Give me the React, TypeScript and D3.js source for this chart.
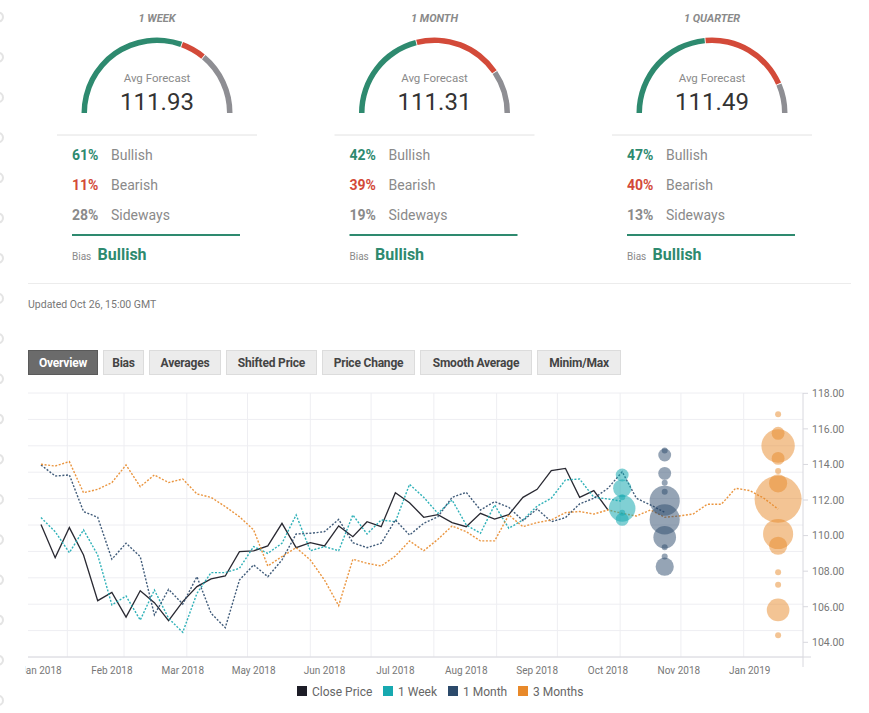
import * as d3 from "d3";

// gauge panel
const tenors = ["1 WEEK", "1 MONTH", "1 QUARTER"];
const avgForecast = [111.93, 111.31, 111.49];
const bullishPct = [61, 42, 47];
const bearishPct = [11, 39, 40];
const sidewaysPct = [28, 19, 13];
const biasLabel = ["Bullish", "Bullish", "Bullish"];

const tabs = ["Overview", "Bias", "Averages", "Shifted Price", "Price Change", "Smooth Average", "Minim/Max"];

// weekly series, first point = 19 Jan 2018
const closePrice = [
  110.63, 108.76, 110.45, 108.91, 106.34, 106.81, 105.42, 106.9, 106.23, 105.22,
  106.29, 107.13, 107.56, 107.73, 109.1, 109.14, 109.42, 110.69, 109.32, 109.6,
  109.42, 110.54, 109.94, 110.78, 110.5, 112.41, 111.85, 111.03, 111.18, 110.73,
  110.5, 111.25, 110.93, 111.18, 112.15, 112.6, 113.65, 113.78, 112.15, 112.53,
  111.44,
];
const week1 = [
  111.01, 110.22, 109.04, 110.32, 108.91, 106.1, 106.6, 105.25, 106.94, 105.35,
  104.56, 106.75, 107.92, 107.92, 108.16, 109.38, 109.0, 109.57, 111.16, 109.15,
  109.38, 109.15, 111.16, 110.09, 110.88, 110.78, 112.88, 112.15, 111.25, 112.0,
  110.6, 110.13, 111.72, 110.41, 110.88, 111.66, 112.1, 113.13, 113.18, 112.15,
  112.06, 111.93,
];
const month1 = [
  113.97, 113.35, 113.41, 111.35, 111.03, 108.67, 109.57, 108.82, 105.54, 106.98,
  106.15, 107.69, 105.63, 104.82, 107.5, 108.35, 107.69, 108.63, 110.09, 110.13,
  110.22, 110.91, 109.6, 109.32, 109.57, 110.88, 110.03, 110.69, 111.06, 112.15,
  112.43, 111.44, 111.91, 111.59, 110.84, 111.5, 110.78, 111.01, 111.78, 112.1,
  112.66, 113.59, 112.1, 111.72, 111.31,
];
const months3 = [
  114.01, 113.91, 114.16, 112.41, 112.6, 112.98, 113.97, 112.75, 113.41, 112.98,
  113.18, 112.34, 112.15, 111.63, 111.06, 110.32, 108.29, 108.82, 109.32, 108.63,
  107.5, 106.06, 108.67, 108.44, 108.29, 108.85, 109.7, 109.15, 109.79, 110.54,
  110.22, 109.7, 109.7, 111.16, 110.5, 110.73, 110.88, 111.29, 111.35, 111.21,
  111.44, 111.25, 111.1, 111.44, 111.03, 111.1, 111.21, 111.76, 111.76, 112.66,
  112.53, 112.1, 111.49,
];

// forecast bubbles: value and number of forecasts
const week1BubbleValues = [113.41, 112.66, 112.15, 111.53, 111.29, 110.91];
const week1BubbleCounts = [2, 3, 1, 5, 1, 2];
const month1BubbleValues = [114.78, 114.53, 113.5, 112.97, 112.47, 111.96, 110.91, 109.9, 109.34, 108.82, 108.25];
const month1BubbleCounts = [1, 2, 2, 1, 1, 6, 6, 4, 1, 1, 3];
const months3BubbleValues = [116.82, 115.75, 115.04, 114.34, 113.63, 112.94, 112.04, 110.09, 109.43, 107.94, 107.24, 105.82, 104.39];
const months3BubbleCounts = [1, 2, 7, 2, 1, 3, 12, 6, 3, 1, 1, 4, 1];

const yTicks = [104, 106, 108, 110, 112, 114, 116, 118];

const seriesNames = ["Close Price", "1 Week", "1 Month", "3 Months"];
const seriesColors = ["#1d1d27", "#17a9b0", "#2c4a6b", "#e8892a"];

const GREEN = "#2e8a6f";
const RED = "#d34a39";
const GREY = "#8e8e93";
const FONT = "Roboto, 'Noto Sans', sans-serif";

const startDate = new Date(2018, 0, 19);
const weekDate = (i: number) => d3.timeDay.offset(startDate, 7 * i);

function Gauge({ idx }: { idx: number }) {
  const cx = 157 + idx * 277.5;
  const cy = 113;
  const arc = d3.arc<{ a0: number; a1: number }>()
    .innerRadius(70)
    .outerRadius(75.5)
    .startAngle((d) => d.a0)
    .endAngle((d) => d.a1);
  const angle = d3.scaleLinear().domain([0, 100]).range([-Math.PI / 2, Math.PI / 2]);
  const b = bullishPct[idx];
  const r = bearishPct[idx];
  const segs = [
    { a0: angle(0), a1: angle(b) - 0.006, c: GREEN },
    { a0: angle(b) + 0.006, a1: angle(b + r) - 0.006, c: RED },
    { a0: angle(b + r) + 0.006, a1: angle(100), c: GREY },
  ];
  const left = cx - 85;
  const rows = [
    { p: bullishPct[idx], l: "Bullish", c: GREEN },
    { p: bearishPct[idx], l: "Bearish", c: RED },
    { p: sidewaysPct[idx], l: "Sideways", c: "#8a8a8a" },
  ];
  return (
    <g fontFamily={FONT}>
      <text x={cx} y={21.5} textAnchor="middle" fontSize={11} fontStyle="italic" fontWeight="bold" fill="#8a8a8a">
        {tenors[idx]}
      </text>
      <g transform={`translate(${cx},${cy})`}>
        {segs.map((s, i) => (
          <path key={i} d={arc(s) ?? ""} fill={s.c} />
        ))}
      </g>
      <text x={cx} y={81.5} textAnchor="middle" fontSize={11.5} fill="#8a8a8a">
        Avg Forecast
      </text>
      <text x={cx} y={109.5} textAnchor="middle" fontSize={24} fill="#333">
        {avgForecast[idx].toFixed(2)}
      </text>
      <line x1={cx - 100} x2={cx + 100} y1={135} y2={135} stroke="#e2e2e2" strokeWidth={1} />
      {rows.map((row, i) => (
        <g key={i}>
          <text x={left} y={160 + i * 30} fontSize={14} fontWeight="bold" fill={row.c}>
            {row.p}%
          </text>
          <text x={left + 39} y={160 + i * 30} fontSize={14} fill="#8a8a8a">
            {row.l}
          </text>
        </g>
      ))}
      <line x1={left} x2={cx + 83} y1={235} y2={235} stroke={GREEN} strokeWidth={2} />
      <text x={left} y={260} fontSize={10} fill="#8a8a8a">
        Bias
      </text>
      <text x={left + 25.5} y={260} fontSize={16} fontWeight="bold" fill={GREEN}>
        {biasLabel[idx]}
      </text>
    </g>
  );
}

function Chart() {
  const plot = { left: 28, right: 803, top: 393, bottom: 657 };
  const x = d3.scaleTime().domain([startDate, new Date(2018, 9, 26)]).range([41, 608]);
  const y = d3.scaleLinear().domain([104, 118]).range([642.3, 393.3]);
  const grid = d3.scaleLinear().domain([0, 10]).range([plot.bottom, plot.top]);
  const months = d3.timeMonth.range(new Date(2018, 1, 1), new Date(2019, 0, 2));
  const labelIdx = d3.range(0, 51, 5);
  const fmt = d3.timeFormat("%b %Y");
  const line = d3
    .line<number>()
    .x((_, i) => x(weekDate(i)))
    .y((d) => y(d));
  const r = d3.scaleSqrt().domain([1, 12]).range([3, 23.5]);
  const bubbles = [
    { idx: 41, v: week1BubbleValues, n: week1BubbleCounts, c: seriesColors[1], o: 0.55 },
    { idx: 44, v: month1BubbleValues, n: month1BubbleCounts, c: seriesColors[2], o: 0.5 },
    { idx: 52, v: months3BubbleValues, n: months3BubbleCounts, c: seriesColors[3], o: 0.5 },
  ];
  const lines = [closePrice, week1, month1, months3];

  return (
    <g fontFamily={FONT}>
      <defs>
        <clipPath id="xclip">
          <rect x={25.5} y={plot.bottom} width={800} height={30} />
        </clipPath>
      </defs>
      {grid.ticks(10).map((t) => (
        <line key={t} x1={plot.left} x2={plot.right} y1={grid(t)} y2={grid(t)} stroke="#eeeef2" />
      ))}
      {months.map((m) => (
        <line key={+m} x1={x(m)} x2={x(m)} y1={plot.top} y2={plot.bottom} stroke="#eeeef2" />
      ))}
      <line x1={plot.left} x2={811} y1={plot.bottom} y2={plot.bottom} stroke="#d8d8de" />
      <line x1={plot.right} x2={plot.right} y1={plot.top} y2={plot.bottom + 10} stroke="#d8d8de" />
      {yTicks.map((t) => (
        <g key={t}>
          <line x1={plot.right} x2={plot.right + 5} y1={y(t)} y2={y(t)} stroke="#d8d8de" />
          <text x={812} y={y(t) + 3.8} fontSize={10.5} fill="#777">
            {t.toFixed(2)}
          </text>
        </g>
      ))}
      <g clipPath="url(#xclip)">
        {labelIdx.map((i) => (
          <text key={i} x={x(weekDate(i))} y={674} textAnchor="middle" fontSize={10} fill="#777">
            {fmt(weekDate(i))}
          </text>
        ))}
      </g>
      {lines.map((d, i) => (
        <path
          key={i}
          d={line(d) ?? ""}
          fill="none"
          stroke={seriesColors[i]}
          strokeWidth={i === 0 ? 1.3 : 1.4}
          strokeDasharray={i === 0 ? undefined : "2,1.6"}
          opacity={i === 0 ? 0.95 : 0.9}
        />
      ))}
      {bubbles.map((b, k) =>
        b.v.map((v, j) => (
          <circle
            key={`${k}-${j}`}
            cx={x(weekDate(b.idx))}
            cy={y(v)}
            r={r(b.n[j])}
            fill={b.c}
            fillOpacity={b.o}
          />
        ))
      )}
      {seriesNames.map((name, i) => {
        const lx = [297, 383, 448, 518][i];
        return (
          <g key={name}>
            <rect x={lx} y={686} width={10} height={10} fill={seriesColors[i]} />
            <text x={lx + 15} y={695.5} fontSize={12} fill="#666">
              {name}
            </text>
          </g>
        );
      })}
    </g>
  );
}

export default function App() {
  const tabX = [28, 103, 149, 226, 322, 420, 537];
  const tabW = [69, 40, 71, 90, 92, 111, 83];
  return (
    <svg
      width={869}
      height={713}
      style={{ position: "absolute", left: 0, top: 0, background: "#fff" }}
      fontFamily={FONT}
    >
      {d3.range(17, 713, 40.2).map((yy) => (
        <circle key={yy} cx={-1.5} cy={yy} r={4.5} fill="none" stroke="#e4e4e4" strokeWidth={2} />
      ))}
      {[0, 1, 2].map((i) => (
        <Gauge key={i} idx={i} />
      ))}
      <line x1={28} x2={851} y1={283.5} y2={283.5} stroke="#ececec" />
      <text x={28} y={307.5} fontSize={10.5} fill="#777">
        Updated Oct 26, 15:00 GMT
      </text>
      {tabs.map((t, i) => (
        <g key={t}>
          <rect
            x={tabX[i] + 0.5}
            y={350.5}
            width={tabW[i]}
            height={24}
            fill={i === 0 ? "#6b6b6b" : "#ececec"}
            stroke={i === 0 ? "#5a5a5a" : "#dcdcdc"}
          />
          <text
            x={tabX[i] + tabW[i] / 2 + 0.5}
            y={367}
            textAnchor="middle"
            fontSize={12}
            fontWeight="bold"
            fill={i === 0 ? "#fff" : "#444"}
            letterSpacing={-0.2}
          >
            {t}
          </text>
        </g>
      ))}
      <Chart />
    </svg>
  );
}
